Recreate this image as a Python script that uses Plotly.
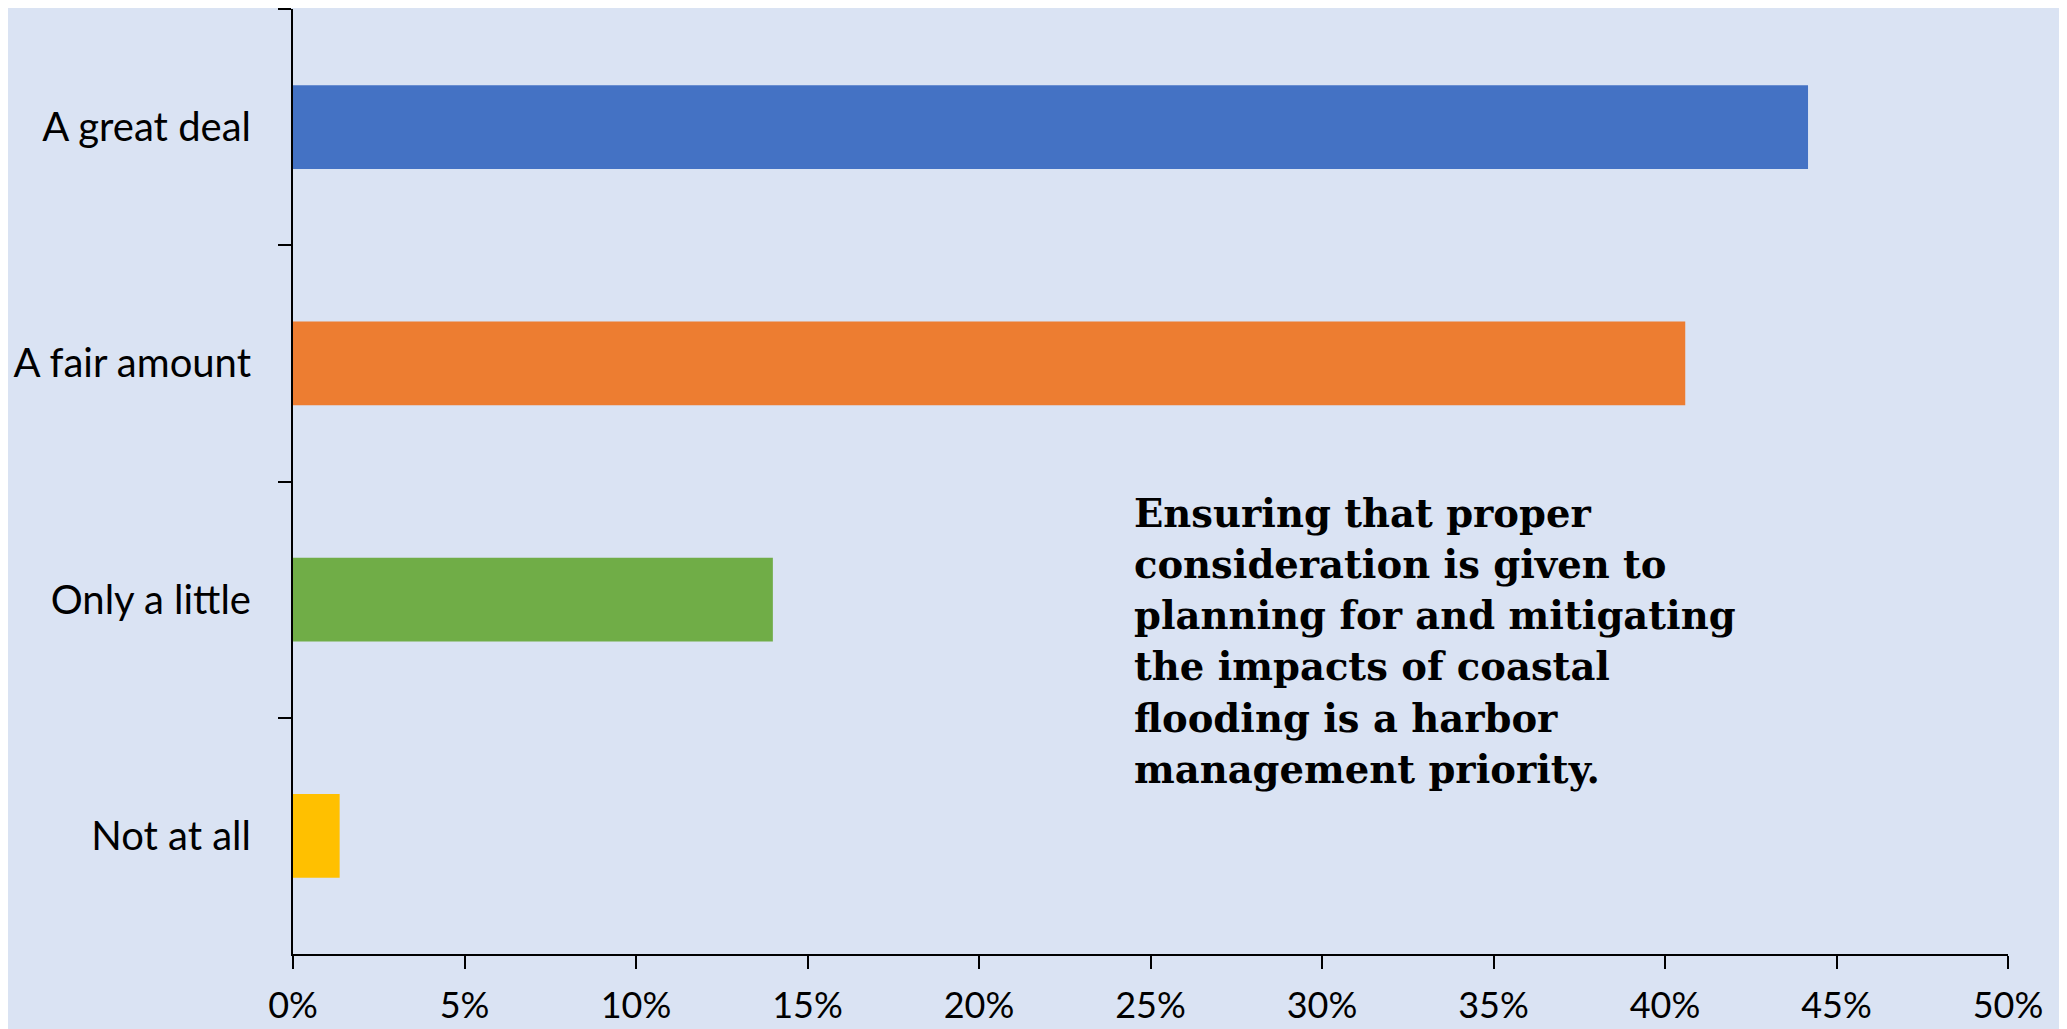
import plotly.graph_objects as go

categories = ["A great deal", "A fair amount", "Only a little", "Not at all"]
values = [44.17, 40.59, 13.99, 1.36]
colors = ["#4472C4", "#ED7D31", "#70AD47", "#FFC000"]
x_tickvals = [0, 5, 10, 15, 20, 25, 30, 35, 40, 45, 50]
x_ticktext = [f"{v}%" for v in x_tickvals]
note_lines = [
    "Ensuring that proper",
    "consideration is given to",
    "planning for and mitigating",
    "the impacts of coastal",
    "flooding is a harbor",
    "management priority.",
]

# page body adds an 8px offset; compensate in size and margins
OFF = 8
W, H = 2067 - OFF, 1029 - OFF
L, R, T, B = 293 - OFF, 59, 9 - OFF, 75
BG = "#DAE3F3"

fig = go.Figure(
    go.Bar(
        x=values,
        y=categories,
        orientation="h",
        marker=dict(color=colors, line=dict(width=0)),
        width=0.354,
        hoverinfo="x+y",
    )
)

ph = H - T - B
pw = W - L - R
base0 = 525.0
pitch = 51.3
for i, line in enumerate(note_lines):
    base = base0 + i * pitch
    ymid = base - 12
    fig.add_annotation(
        text=line,
        xref="paper", yref="paper",
        x=(1132 - OFF - L) / pw,
        y=1 - (ymid - OFF - T) / ph,
        xanchor="left", yanchor="middle",
        showarrow=False,
        font=dict(family="DejaVu Serif", size=38.5, color="#000000", weight="bold"),
    )

fig.update_layout(
    width=W, height=H,
    margin=dict(l=L, r=R, t=T, b=B, pad=0),
    paper_bgcolor=BG, plot_bgcolor=BG,
    showlegend=False,
    font=dict(family="Lato", size=40, color="#000000"),
    xaxis=dict(
        range=[0, 50],
        tickvals=x_tickvals,
        ticktext=x_ticktext,
        showgrid=False, zeroline=False, automargin=False,
        showline=True, linecolor="#000000", linewidth=2,
        ticks="outside", ticklen=13, tickwidth=2, tickcolor="#000000",
        ticklabelstandoff=6,
        tickfont=dict(family="Lato", size=36, color="#000000"),
        fixedrange=True,
    ),
    yaxis=dict(
        categoryorder="array",
        categoryarray=categories,
        autorange="reversed",
        tickson="boundaries",
        showgrid=False, zeroline=False, automargin=False,
        showline=True, linecolor="#000000", linewidth=2,
        ticks="outside", ticklen=13, tickwidth=2, tickcolor="#000000",
        ticklabelstandoff=32,
        tickfont=dict(family="Lato", size=40, color="#000000"),
        fixedrange=True,
    ),
)

fig.write_html("out.html")
